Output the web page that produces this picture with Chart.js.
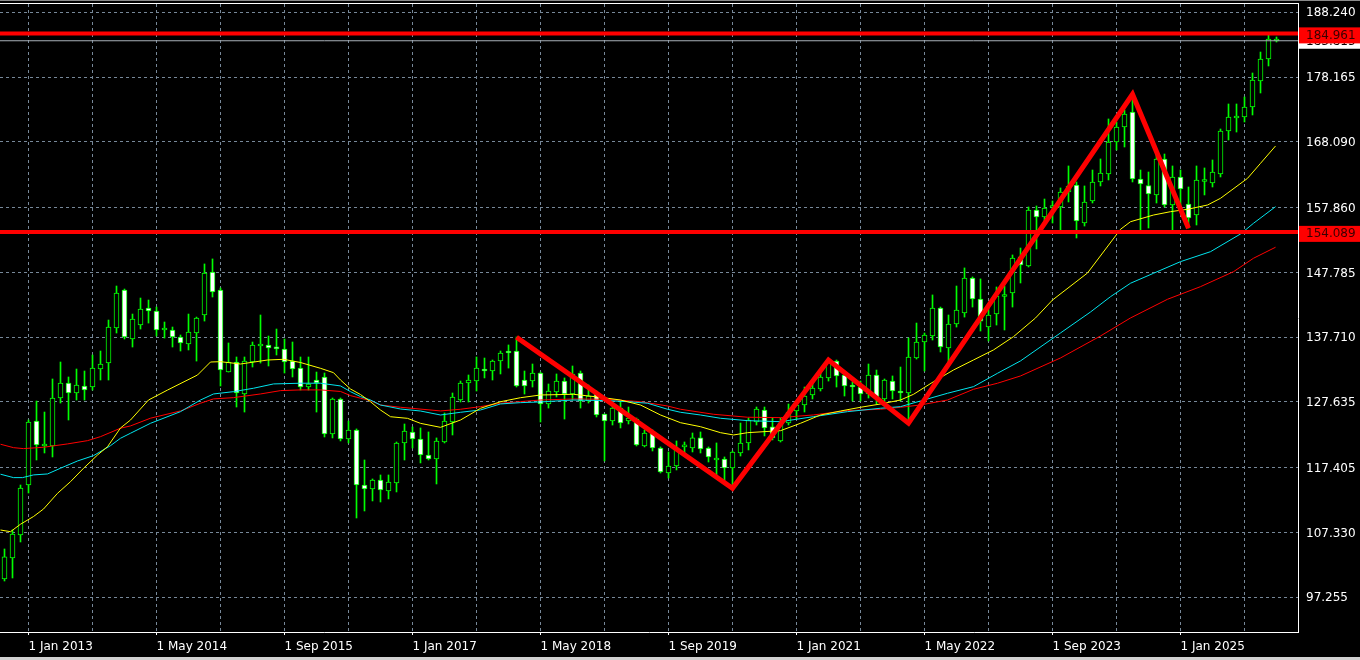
<!DOCTYPE html>
<html>
<head>
<meta charset="utf-8">
<title>Monthly chart</title>
<script src="https://cdn.jsdelivr.net/npm/chart.js@4.4.1/dist/chart.umd.min.js"></script>
<style>
    html, body { margin: 0; padding: 0; background: #000; }
    canvas { display: block; }
</style>
</head>
<body>
<canvas id="chart" width="1360" height="660"></canvas>
<script>
/* Monthly candles. Index 0 is Jan 2013, so the first candle (index -3) is Oct 2012. */
const firstMonth = -3;

const opens = [100.10,103.37,106.95,114.72,124.67,120.79,120.79,128.25,130.58,129.03,130.12,129.96,132.76,133.69,139.14,145.05,
    137.43,139.60,142.25,141.78,138.83,138.83,137.74,136.65,138.36,141.16,147.85,145.05,132.29,133.85,128.87,133.85,
    136.34,136.50,135.96,135.88,134.00,132.91,129.96,131.05,131.52,122.66,128.10,121.88,123.28,114.72,114.10,115.50,
    113.79,115.04,121.26,122.97,121.88,119.39,118.77,121.41,124.52,127.94,130.58,130.89,132.76,132.45,134.00,135.56,
    135.56,131.05,130.89,132.14,127.32,129.18,130.89,128.87,132.14,127.78,128.87,125.76,124.67,126.69,124.67,124.98,
    120.79,122.97,120.48,116.59,117.68,120.64,120.48,122.04,120.48,118.61,118.77,117.37,119.70,121.26,124.52,126.38,
    123.75,121.57,124.36,126.23,127.16,128.72,129.65,131.37,134.00,131.83,130.27,129.96,128.87,131.83,128.10,130.89,
    129.34,129.03,134.47,136.96,137.89,142.25,136.03,139.76,141.47,146.92,143.65,139.29,141.31,144.04,144.58,150.19,
    148.79,157.49,156.41,157.88,157.96,160.29,161.38,155.47,158.89,161.85,163.09,168.07,170.40,172.73,162.32,161.30,
    159.83,165.43,158.27,162.63,158.43,156.72,161.93,161.69,163.09,169.78,171.80,171.96,173.51,177.55,180.97,183.77];

const highs = [104.77,107.72,114.72,124.83,127.78,126.07,131.21,133.85,131.52,132.76,132.45,134.94,135.56,140.38,145.67,145.20,
    141.31,143.80,143.49,142.40,140.07,139.29,138.05,141.31,140.84,149.10,149.88,145.36,136.81,134.63,134.63,136.96,
    141.16,137.89,138.98,137.43,136.96,134.63,134.63,132.29,132.14,128.25,128.25,124.67,123.44,118.61,115.66,116.28,
    116.28,121.41,124.21,123.75,123.59,122.97,122.04,125.92,129.03,130.89,131.83,134.63,134.47,134.16,135.56,136.50,
    137.74,132.45,133.54,132.29,130.43,131.99,131.37,133.23,132.45,130.27,129.34,125.76,127.32,127.63,126.85,125.14,
    123.28,123.28,120.64,119.86,121.57,121.41,122.81,122.97,120.64,121.26,119.08,120.01,124.36,125.14,126.85,126.85,
    125.14,125.14,127.32,127.78,129.96,130.74,132.14,134.31,134.16,132.14,130.74,130.89,133.54,132.60,131.21,131.68,
    133.07,137.58,139.91,138.36,144.28,142.40,141.16,145.67,148.48,147.08,146.77,142.71,145.52,145.67,150.50,151.58,
    157.96,158.12,159.20,158.89,160.92,164.34,161.85,161.23,163.71,165.43,171.65,171.18,173.05,175.53,163.71,163.40,
    166.51,166.20,164.34,163.71,161.07,164.34,164.03,165.27,170.09,173.98,173.98,175.07,178.80,182.06,185.02,184.40];

const lows = [99.79,100.26,105.86,113.48,118.61,119.70,119.08,127.47,124.83,127.94,127.94,129.49,131.05,131.05,138.36,137.43,
    136.18,138.98,139.91,137.89,137.58,136.18,135.56,135.72,134.00,140.22,143.96,130.12,132.29,126.85,126.07,133.07,
    133.69,133.23,134.94,132.14,131.52,129.49,129.49,126.07,122.19,122.04,121.57,121.26,109.59,110.68,112.24,112.08,
    112.55,113.64,118.61,120.48,118.15,118.61,114.88,121.26,122.50,127.63,127.63,129.34,131.37,131.05,131.99,132.91,
    129.96,128.87,129.96,124.52,126.69,128.41,124.98,127.94,126.69,127.47,125.30,118.46,124.05,123.59,124.21,120.79,
    120.64,120.01,116.59,115.81,117.06,119.23,119.86,119.70,118.30,115.97,115.19,114.26,119.23,120.17,124.05,122.35,
    121.73,121.41,124.05,124.98,126.07,128.10,129.34,130.89,129.96,128.56,127.78,127.78,128.25,127.32,127.47,128.10,
    127.78,124.21,134.31,132.45,137.27,135.41,133.38,139.29,140.84,142.40,138.67,137.12,139.60,138.83,142.40,146.14,
    148.63,151.43,155.63,155.47,154.38,158.74,153.14,155.00,158.58,161.23,162.16,166.83,167.29,161.85,154.38,154.69,
    158.58,157.96,154.38,158.27,154.69,155.16,159.83,161.07,162.63,168.38,169.62,171.18,172.27,175.69,179.89,183.62];

const closes = [103.53,107.10,114.26,124.52,120.94,120.94,128.25,130.58,129.03,130.27,129.49,132.91,133.54,139.29,144.58,137.74,
    140.53,142.09,141.78,138.83,138.98,137.74,136.81,138.52,140.69,147.70,144.74,132.60,133.85,129.03,134.00,136.50,
    136.50,136.03,135.90,133.85,132.76,129.96,130.43,130.58,122.66,128.10,121.88,123.28,114.72,114.10,115.50,113.95,
    115.19,121.26,123.12,121.88,119.39,118.77,121.57,124.67,128.41,130.58,131.05,132.91,132.45,134.00,135.25,135.25,
    130.12,130.12,132.14,127.32,129.34,130.89,128.87,131.99,127.78,128.56,125.61,124.67,126.69,124.36,125.14,120.95,
    122.81,120.48,116.75,117.68,120.48,120.79,122.04,120.33,119.08,118.77,117.37,119.86,121.26,124.83,126.54,123.59,
    122.04,124.36,126.07,127.16,128.56,129.81,131.52,134.00,131.68,130.12,129.96,128.87,131.83,128.41,131.05,129.34,
    129.03,134.63,136.96,138.05,142.25,136.18,139.76,141.94,146.92,143.65,140.22,141.16,144.12,144.12,150.03,148.94,
    157.49,156.41,157.80,157.96,160.29,161.23,155.78,158.74,161.85,163.25,168.07,170.40,172.42,162.32,161.54,159.98,
    165.43,158.27,162.63,160.76,156.25,162.16,162.01,163.40,169.78,171.96,171.88,173.51,177.71,180.97,184.09,183.82];

/* Moving averages (x in months from Jan 2013) */
const yellowX = [-3.5,-2.25,-1,0.63,1.88,3.63,5.25,6.88,8.63,9.88,11.5,12.75,15,17.38,21.13,22.75,24,26.5,29.88,31.88,34,36.5,38.13,
    39,40.25,41.5,42.75,44,45.25,47.38,49,51.5,54,56.5,59,61.5,64,68.13,71.5,74,76.5,79,81.5,84,86.5,88.13,89.88,94,96.5,99,
    101.5,104,106.5,109,110.63,113.13,115.63,118.13,120.63,123.13,125.88,128,132.38,136.5,137.75,140.63,142.75,144.88,147.38,149,
    152.38,154,155.88];
const yellowY = [107.72,107.46,108.62,109.82,110.99,113.43,115.24,117.32,119.39,120.68,123.59,124.83,127.94,129.49,131.83,133.85,
    133.90,133.54,134.16,134.27,133.77,132.87,132.19,131.05,129.65,128.79,127.67,126.38,125.34,125.09,124.31,123.69,124.83,126.65,
    127.67,128.30,128.72,128.83,128.36,127.94,127.16,125.61,124.41,123.79,122.86,122.50,122.86,123.17,124.32,125.61,126.23,126.81,
    127.32,127.94,128.83,130.79,132.61,134.17,135.73,137.80,140.70,143.49,147.70,154.49,155.67,156.71,157.23,157.60,158.27,159.31,
    162.42,164.75,167.45];

const cyanX = [-3.5,-1.88,-0.75,0.63,2.38,4,6.13,8.13,10.25,11.5,12.75,15.25,19,21.5,23.13,25.63,28.13,30.63,34,36.5,39,40.25,41.5,
    42.75,44,46.5,49,51.5,54,56.5,59,61.5,64,68.13,72.38,74.88,77.38,79.88,81.5,84,86.5,89.88,94,98.13,102.38,106.5,109,111.5,
    114.88,118.13,121.13,124,129,132.75,135.25,137.75,140.63,144,147.75,151.5,153.13,155.88];
const cyanY = [116.40,115.87,115.87,116.29,116.44,117.33,118.46,119.29,120.84,121.99,122.77,124.32,126.13,127.94,128.88,129.24,
    129.77,130.44,130.55,130.55,130.13,129.24,128.47,127.94,127.16,126.54,126.23,125.61,126.03,126.39,127.33,127.53,127.64,127.94,
    127.84,127.68,127.44,126.50,126.03,125.61,125.10,124.73,124.57,125.35,126.13,126.66,126.91,127.79,128.99,130.02,132.10,134.02,
    138.37,141.63,144.01,146.10,147.65,149.46,151.01,153.76,155.43,158.01];

const redX = [-3.5,-1.88,-0.63,1.88,4.88,7.38,9,11.5,12.75,15.25,19,21.5,23.13,25.63,29,31.5,34,36.5,39,40.25,41.5,42.75,44,46.5,
    51.5,54,56.5,59,61.5,64,68.13,72.38,76.5,79.88,81.5,85.63,89.88,94,98.13,102.38,106.5,109,111.5,114.88,118.13,121.13,124,129,
    134,137.75,142.38,146.5,150.63,153.13,155.88];
const redY = [121.06,120.53,120.38,120.59,121.11,121.62,122.24,123.55,123.91,125.11,126.24,127.44,128.11,128.31,128.88,129.40,
    129.51,129.51,129.27,128.62,128.22,127.84,127.16,126.81,126.24,126.50,126.91,127.44,127.69,127.94,128.10,128.05,127.68,127.01,
    126.50,125.72,125.26,125.20,125.62,126.29,126.50,126.81,127.17,127.94,129.61,130.55,131.68,134.48,137.90,140.70,143.61,145.57,
    147.90,149.99,151.70];

/* Zigzag drawn by hand on the chart */
const zigzagX = [61, 88, 100, 110, 138, 145];
const zigzagY = [137.70, 114.22, 134.17, 124.33, 175.49, 154.65];

/* Horizontal lines and the last price */
const levelPrices = [184.961, 154.089];
const lastPrice = 183.815;

/* Axes */
const priceTicks = [97.255, 107.330, 117.405, 127.635, 137.710, 147.785, 157.860, 168.090, 178.165, 188.240];
const dateTicks = [0, 16, 32, 48, 64, 80, 96, 112, 128, 144];
const dateLabels = ["1 Jan 2013", "1 May 2014", "1 Sep 2015", "1 Jan 2017", "1 May 2018",
                    "1 Sep 2019", "1 Jan 2021", "1 May 2022", "1 Sep 2023", "1 Jan 2025"];
const gridMonths = [0, 8, 16, 24, 32, 40, 48, 56, 64, 72, 80, 88, 96, 104, 112, 120, 128, 136, 144, 152];

const X_MIN = -3.5625, X_MAX = 158.6875; // 8 px per month
const Y_MIN = 91.858, Y_MAX = 189.531;

const FONT = { family: "'DejaVu Sans', sans-serif", size: 12 };
const GRID_COLOR = "#778899";

/* Building the datasets */

const months = opens.map((_, k) => firstMonth + k);
const wickData = months.map((m, k) => ({ x: m, y: [lows[k], highs[k]] }));
const bodyData = months.map((m, k) => ({ x: m, y: [opens[k], closes[k]] }));
const bodyFill = months.map((m, k) => closes[k] < opens[k] ? "#ffffff" : "#000000"); // white = down month

const toPoints = (xs, ys) => xs.map((x, k) => ({ x: x, y: ys[k] }));
const flatLine = (v) => [{ x: X_MIN, y: v }, { x: X_MAX, y: v }];

function lineSet(data, color, width, order){
    return {
        type: "line",
        data: data,
        borderColor: color,
        borderWidth: width,
        pointRadius: 0,
        tension: 0,
        fill: false,
        order: order
    };
}

const tagPlugin = {
    id: "tags",
    beforeDraw(chart){
        const c = chart.ctx;
        c.save();
        c.fillStyle = "#000000";
        c.fillRect(0, 0, chart.width, chart.height);
        c.restore();
    },
    afterDraw(chart){
        const c = chart.ctx;
        const area = chart.chartArea;
        const yScale = chart.scales.y;

        c.save();
        // window frame bits
        c.fillStyle = "#8a8a8a";
        c.fillRect(0, 0, chart.width, 1);
        c.fillStyle = "#ffffff";
        c.fillRect(0, area.top - 1, area.right + 1, 1);
        c.fillStyle = "#d0d0d0";
        c.fillRect(0, chart.height - 3, chart.width, 3);

        c.font = "12px 'DejaVu Sans', sans-serif";
        c.textBaseline = "middle";
        c.textAlign = "left";

        // last price tag (mostly hidden under the red one)
        let py = yScale.getPixelForValue(lastPrice);
        c.fillStyle = "#ffffff";
        c.fillRect(area.right + 1, py - 7, chart.width - area.right, 15);
        c.fillStyle = "#000000";
        c.fillText(lastPrice.toFixed(3), area.right + 8, py + 1);

        // horizontal line tags
        levelPrices.forEach((v) => {
            const ly = yScale.getPixelForValue(v);
            c.fillStyle = "#ff0000";
            c.fillRect(area.right + 1, ly - 6, chart.width - area.right, 16);
            c.fillStyle = "#3a0000";
            c.fillText(v.toFixed(3), area.right + 8, ly + 2);
        });
        c.restore();
    }
};

const ctx = document.getElementById("chart").getContext("2d");

new Chart(ctx, {
    type: "bar",
    data: {
        datasets: [
            lineSet(toPoints(zigzagX, zigzagY), "#ff0000", 5, 0),
            lineSet(flatLine(levelPrices[0]), "#ff0000", 4, 0),
            lineSet(flatLine(levelPrices[1]), "#ff0000", 4, 0),
            lineSet(flatLine(lastPrice), "#a8b0b8", 1, 1),
            lineSet(toPoints(yellowX, yellowY), "#ffff00", 1, 1),
            lineSet(toPoints(cyanX, cyanY), "#00e5ee", 1, 1),
            lineSet(toPoints(redX, redY), "#ff0000", 1, 1),
            {
                type: "bar",
                data: bodyData,
                backgroundColor: bodyFill,
                borderColor: "#00ff00",
                borderWidth: 1,
                borderSkipped: false,
                barThickness: 5,
                minBarLength: 2,
                grouped: false,
                order: 2
            },
            {
                type: "bar",
                data: wickData,
                backgroundColor: "#00ff00",
                borderWidth: 0,
                barThickness: 1,
                grouped: false,
                order: 3
            }
        ]
    },
    options: {
        responsive: false,
        animation: false,
        devicePixelRatio: 1,
        events: [],
        layout: { padding: { top: 4, left: 0, right: 0, bottom: 0 } },
        plugins: {
            legend: { display: false },
            tooltip: { enabled: false }
        },
        scales: {
            x: {
                type: "linear",
                min: X_MIN,
                max: X_MAX,
                offset: false,
                afterBuildTicks: (s) => { s.ticks = gridMonths.map((v) => ({ value: v })); },
                afterFit: (s) => { s.height = 28; s.paddingLeft = 0; s.paddingRight = 0; },
                grid: {
                    offset: false,
                    color: GRID_COLOR,
                    drawTicks: true,
                    tickLength: 3,
                    tickColor: (c) => (c.tick && dateTicks.includes(c.tick.value)) ? "#ffffff" : "rgba(0,0,0,0)",
                    tickBorderDash: []
                },
                border: { color: "#ffffff", dash: [3, 3] },
                ticks: {
                    color: "#ffffff",
                    font: FONT,
                    align: "start",
                    padding: 5,
                    maxRotation: 0,
                    autoSkip: false,
                    callback: (v) => {
                        const k = dateTicks.indexOf(v);
                        return k >= 0 ? dateLabels[k] : "";
                    }
                }
            },
            y: {
                position: "right",
                min: Y_MIN,
                max: Y_MAX,
                afterBuildTicks: (s) => { s.ticks = priceTicks.map((v) => ({ value: v })); },
                afterFit: (s) => { s.width = 62; s.paddingTop = 0; s.paddingBottom = 0; },
                grid: { color: GRID_COLOR, drawTicks: false },
                border: { color: "#ffffff", dash: [3, 3] },
                ticks: {
                    color: "#ffffff",
                    font: FONT,
                    padding: 8,
                    labelOffset: 1,
                    autoSkip: false,
                    callback: (v) => Number(v).toFixed(3)
                }
            }
        }
    },
    plugins: [tagPlugin]
});
</script>
</body>
</html>
